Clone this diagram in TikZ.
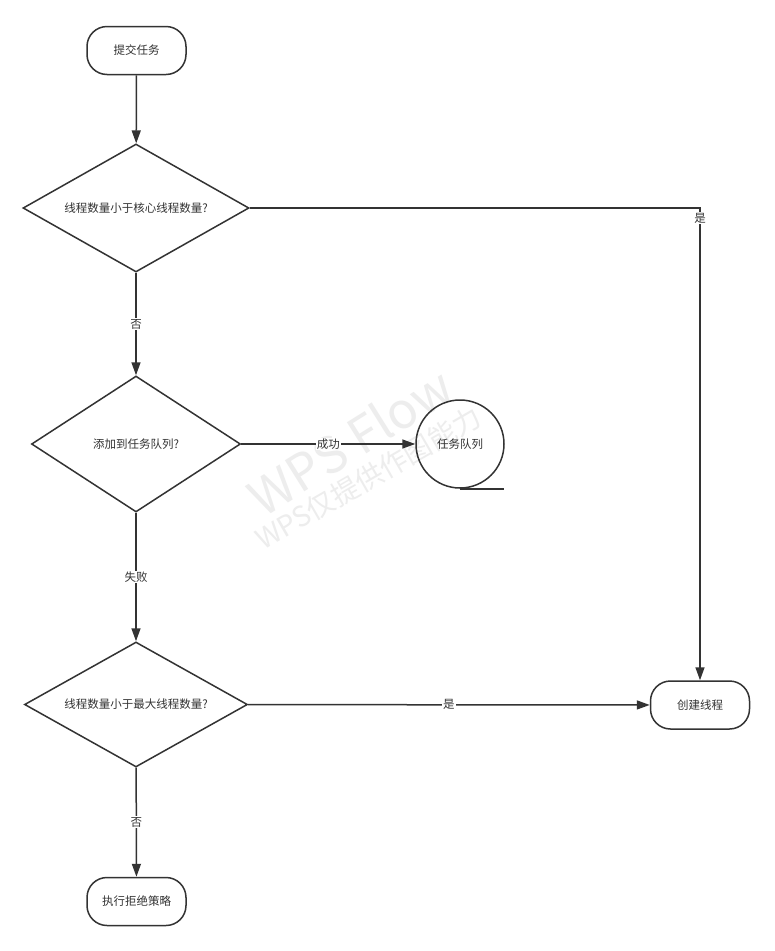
\documentclass[tikz,border=0pt]{standalone}
\usepackage{fontspec}
\newfontfamily\cjk{Noto Sans CJK SC}
\usetikzlibrary{shapes.geometric,arrows.meta}
\definecolor{ink}{HTML}{333333}
\definecolor{wm}{HTML}{EDEDED}
\tikzset{
  base/.style={draw=ink, line width=1.5pt, text=ink, font=\cjk\fontsize{11.5}{13}\selectfont},
  term/.style={base, rounded corners=20pt, minimum width=99pt, minimum height=48pt, inner sep=0pt},
  decision/.style={base, diamond, shape aspect=2, inner sep=0pt},
  store/.style={base, circle, minimum size=88pt, inner sep=0pt},
  arr/.style={draw=ink, line width=1.5pt, -{Triangle[length=13pt,width=9pt]}},
  lbl/.style={fill=white, text=ink, inner sep=1pt, font=\cjk\fontsize{11.5}{13}\selectfont}
}
\begin{document}
\begin{tikzpicture}[x=1pt,y=-1pt]
\useasboundingbox[fill=white] (0,0) rectangle (775,951);
% watermark
\node[text=wm, rotate=32, font=\cjk\fontsize{50}{54}\selectfont] (wm1) at (350,441) {WPS Flow};
\node[text=wm, rotate=30, font=\cjk\fontsize{28}{32}\selectfont] (wm2) at (368,478) {WPS仅提供作图能力};
% nodes
\node[term] (start) at (136.5,50.5) {提交任务};
\node[decision, minimum width=226pt, minimum height=128pt] (d1) at (136,208) {线程数量小于核心线程数量?};
\node[decision, minimum width=209pt, minimum height=136pt] (d2) at (136,444) {添加到任务队列?};
\node[store] (q) at (460,444) {任务队列};
\draw[ink, line width=1.5pt] (q.south) -- ++(44,0);
\node[decision, minimum width=223pt, minimum height=125pt] (d3) at (136,704.5) {线程数量小于最大线程数量?};
\node[term] (create) at (700,705) {创建线程};
\node[term] (reject) at (136.5,901.5) {执行拒绝策略};
\coordinate (c1) at (700,208);
% edges
\draw[arr] (start) -- (d1);
\draw[arr] (d1.east) -- (c1) -- node[lbl, pos=0.022] {是} (create.north);
\draw[arr] (d1) -- node[lbl] {否} (d2);
\draw[arr] (d2) -- node[lbl] {成功} (q);
\draw[arr] (d2) -- node[lbl] {失败} (d3);
\draw[arr] (d3) -- node[lbl] {是} (create);
\draw[arr] (d3) -- node[lbl] {否} (reject);
\end{tikzpicture}
\end{document}
